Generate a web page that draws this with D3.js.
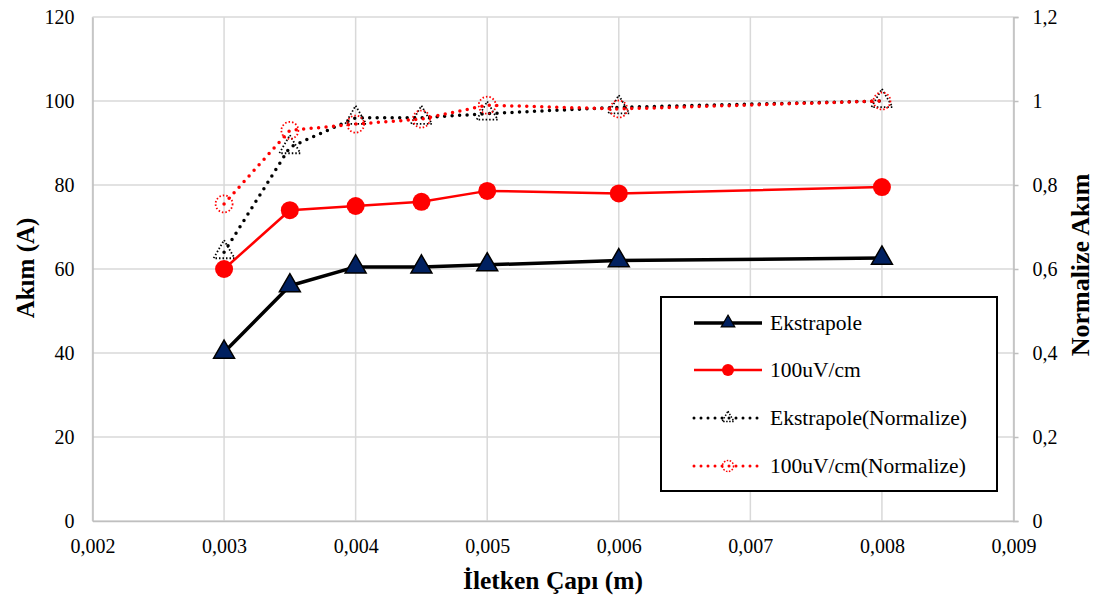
<!DOCTYPE html>
<html>
<head>
<meta charset="utf-8">
<script src="https://cdn.jsdelivr.net/npm/d3@7"></script>
<style>
  body { margin: 0; background: #fff; }
  svg text { font-family: "Times New Roman", "Liberation Serif", "DejaVu Serif", serif; }
</style>
</head>
<body>
<svg id="chart" width="1094" height="602"></svg>
<script>
// Conductor diameter (m)
const diameters = [0.003, 0.0035, 0.004, 0.0045, 0.005, 0.006, 0.008];
// Current (A)
const ekstrapole = [40.2, 56, 60.5, 60.5, 61, 62, 62.6];
const uv100 = [60, 74, 75, 76, 78.6, 78, 79.5];
// Normalized current
const ekstrapoleNorm = [0.64, 0.89, 0.96, 0.96, 0.97, 0.985, 1.0];
const uv100Norm = [0.755, 0.93, 0.945, 0.957, 0.99, 0.981, 1.0];

const xTicks = [0.002, 0.003, 0.004, 0.005, 0.006, 0.007, 0.008, 0.009];
const yLeftTicks = [0, 20, 40, 60, 80, 100, 120];
const yRightTicks = [0, 0.2, 0.4, 0.6, 0.8, 1, 1.2];
const seriesNames = ["Ekstrapole", "100uV/cm", "Ekstrapole(Normalize)", "100uV/cm(Normalize)"];

const FONT = '"Times New Roman", "Liberation Serif", "DejaVu Serif", serif';
const svg = d3.select("#chart").attr("font-family", FONT);
const m = { left: 92.5, right: 1013.5, top: 17, bottom: 521 };

const x = d3.scaleLinear().domain([0.002, 0.009]).range([m.left, m.right]);
const yL = d3.scaleLinear().domain([0, 120]).range([m.bottom, m.top]);
const yR = d3.scaleLinear().domain([0, 1.2]).range([m.bottom, m.top]);

const comma = v => String(+v.toFixed(4)).replace(".", ",");

// gridlines
const grid = svg.append("g").attr("stroke", "#d9d9d9").attr("stroke-width", 1.5);
xTicks.forEach(t => grid.append("line")
  .attr("x1", x(t)).attr("x2", x(t)).attr("y1", m.top).attr("y2", m.bottom));
yLeftTicks.forEach(t => grid.append("line")
  .attr("x1", m.left).attr("x2", m.right).attr("y1", yL(t)).attr("y2", yL(t)));

// axes
const axisStyle = (keepTicks) => g => {
  g.attr("font-family", FONT);
  g.select(".domain").attr("stroke", "#bfbfbf").attr("stroke-width", 1.5);
  if (keepTicks) g.selectAll(".tick line").attr("stroke", "#bfbfbf").attr("stroke-width", 1.5);
  else g.selectAll(".tick line").remove();
  g.selectAll(".tick text").attr("font-size", 20).attr("fill", "#000");
};
svg.append("g").attr("transform", `translate(0,${m.bottom})`)
  .call(d3.axisBottom(x).tickValues(xTicks).tickFormat(comma).tickSizeOuter(0).tickSize(0).tickPadding(18))
  .call(axisStyle(false));
svg.append("g").attr("transform", `translate(${m.left},0)`)
  .call(d3.axisLeft(yL).tickValues(yLeftTicks).tickSizeOuter(0).tickSize(0).tickPadding(18))
  .call(axisStyle(false));
svg.append("g").attr("transform", `translate(${m.right},0)`)
  .call(d3.axisRight(yR).tickValues(yRightTicks).tickFormat(comma).tickSizeOuter(0).tickSize(5).tickPadding(14))
  .call(axisStyle(true));

// axis titles
svg.append("text").attr("x", (m.left + m.right) / 2).attr("y", 589)
  .attr("text-anchor", "middle").attr("font-size", 25.5).attr("font-weight", "bold")
  .text("İletken Çapı (m)");
svg.append("text").attr("transform", `translate(34,268) rotate(-90)`)
  .attr("text-anchor", "middle").attr("font-size", 25).attr("font-weight", "bold")
  .text("Akım (A)");
svg.append("text").attr("transform", `translate(1089,265) rotate(-90)`)
  .attr("text-anchor", "middle").attr("font-size", 26).attr("font-weight", "bold")
  .text("Normalize Akım");

const triPath = d3.symbol().type(d3.symbolTriangle).size(190)();

function drawLine(vals, yScale, style) {
  const line = d3.line().x((d, i) => x(diameters[i])).y(d => yScale(d));
  svg.append("path").datum(vals).attr("d", line).attr("fill", "none")
    .attr("stroke", style.color).attr("stroke-width", style.width)
    .attr("stroke-dasharray", style.dash || null)
    .attr("stroke-linecap", style.dash ? "round" : "butt")
    .attr("stroke-linejoin", "round");
}

// normalized series (right axis), dotted
drawLine(ekstrapoleNorm, yR, { color: "#000", width: 3.5, dash: "0 7.5" });
svg.append("g").selectAll("path").data(ekstrapoleNorm).join("path")
  .attr("d", triPath)
  .attr("transform", (d, i) => `translate(${x(diameters[i])},${yR(d)})`)
  .attr("fill", "none").attr("stroke", "#000").attr("stroke-width", 1.8)
  .attr("stroke-dasharray", "1.5 2");

drawLine(uv100Norm, yR, { color: "#ff0000", width: 3.5, dash: "0 7.5" });
svg.append("g").selectAll("circle").data(uv100Norm).join("circle")
  .attr("cx", (d, i) => x(diameters[i])).attr("cy", d => yR(d)).attr("r", 8.5)
  .attr("fill", "none").attr("stroke", "#ff0000").attr("stroke-width", 1.8)
  .attr("stroke-dasharray", "1.5 2");

// current series (left axis)
drawLine(uv100, yL, { color: "#ff0000", width: 2.5 });
svg.append("g").selectAll("circle").data(uv100).join("circle")
  .attr("cx", (d, i) => x(diameters[i])).attr("cy", d => yL(d)).attr("r", 9)
  .attr("fill", "#ff0000");

drawLine(ekstrapole, yL, { color: "#000", width: 3.5 });
svg.append("g").selectAll("path").data(ekstrapole).join("path")
  .attr("d", triPath)
  .attr("transform", (d, i) => `translate(${x(diameters[i])},${yL(d)})`)
  .attr("fill", "#002060").attr("stroke", "#000").attr("stroke-width", 1.5);

// legend
const lg = svg.append("g");
lg.append("rect").attr("x", 661).attr("y", 297).attr("width", 336).attr("height", 194)
  .attr("fill", "#fff").attr("stroke", "#000").attr("stroke-width", 2);
const rowsY = [323, 370, 418, 466];
const lx1 = 694, lx2 = 762, lmx = 728;
// Ekstrapole
lg.append("line").attr("x1", lx1).attr("x2", lx2).attr("y1", rowsY[0]).attr("y2", rowsY[0])
  .attr("stroke", "#000").attr("stroke-width", 3.5);
lg.append("path").attr("d", d3.symbol().type(d3.symbolTriangle).size(80)())
  .attr("transform", `translate(${lmx},${rowsY[0]})`)
  .attr("fill", "#002060").attr("stroke", "#000").attr("stroke-width", 1.2);
// 100uV/cm
lg.append("line").attr("x1", lx1).attr("x2", lx2).attr("y1", rowsY[1]).attr("y2", rowsY[1])
  .attr("stroke", "#ff0000").attr("stroke-width", 2.5);
lg.append("circle").attr("cx", lmx).attr("cy", rowsY[1]).attr("r", 6).attr("fill", "#ff0000");
// Ekstrapole(Normalize)
lg.append("line").attr("x1", lx1).attr("x2", lx2).attr("y1", rowsY[2]).attr("y2", rowsY[2])
  .attr("stroke", "#000").attr("stroke-width", 3).attr("stroke-dasharray", "0 7")
  .attr("stroke-linecap", "round");
lg.append("path").attr("d", d3.symbol().type(d3.symbolTriangle).size(60)())
  .attr("transform", `translate(${lmx},${rowsY[2]})`)
  .attr("fill", "none").attr("stroke", "#000").attr("stroke-width", 1.5)
  .attr("stroke-dasharray", "1.5 1.5");
// 100uV/cm(Normalize)
lg.append("line").attr("x1", lx1).attr("x2", lx2).attr("y1", rowsY[3]).attr("y2", rowsY[3])
  .attr("stroke", "#ff0000").attr("stroke-width", 3).attr("stroke-dasharray", "0 7")
  .attr("stroke-linecap", "round");
lg.append("circle").attr("cx", lmx).attr("cy", rowsY[3]).attr("r", 5.5)
  .attr("fill", "none").attr("stroke", "#ff0000").attr("stroke-width", 1.5)
  .attr("stroke-dasharray", "1.5 1.5");

lg.selectAll("text.lbl").data(seriesNames).join("text").attr("class", "lbl")
  .attr("x", 770).attr("y", (d, i) => rowsY[i] + 7)
  .attr("font-size", 21.5).attr("fill", "#000").text(d => d);
</script>
</body>
</html>
